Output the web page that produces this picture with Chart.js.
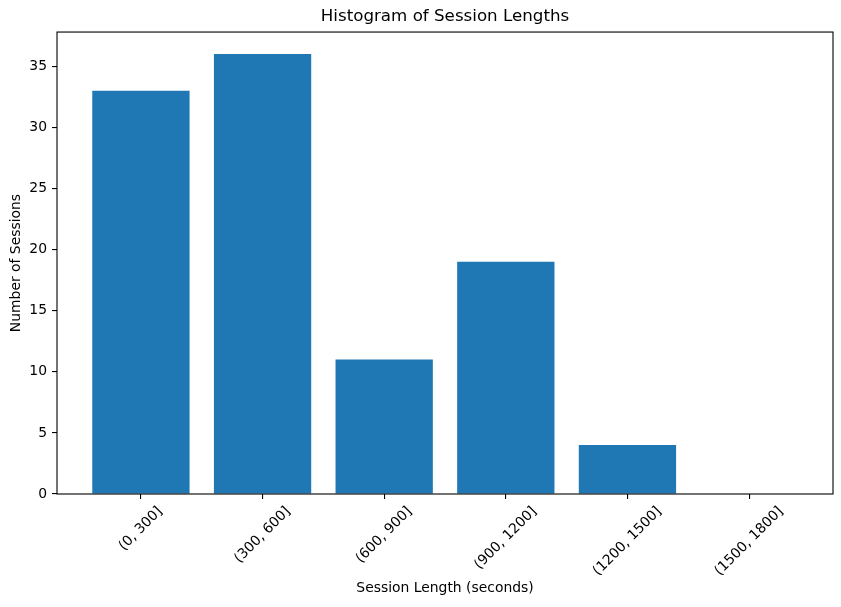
<!DOCTYPE html>
<html>
<head>
<meta charset="utf-8">
<title>Histogram of Session Lengths</title>
<script src="https://cdn.jsdelivr.net/npm/chart.js@4.4.0/dist/chart.umd.min.js"></script>
<style>
    html, body { margin: 0; padding: 0; background: #fff; }
    #wrap { width: 841px; height: 607px; position: relative; }
</style>
</head>
<body>
<div id="wrap"><canvas id="histChart"></canvas></div>
<script>
// ===== DATA =====
var sessionBins = ["(0, 300]", "(300, 600]", "(600, 900]", "(900, 1200]", "(1200, 1500]", "(1500, 1800]"];
var sessionCounts = [33, 36, 11, 19, 4, 0];
var countTicks = [0, 5, 10, 15, 20, 25, 30, 35];

var FONT = "'DejaVu Sans', 'Liberation Sans', sans-serif";
var BAR_COLOR = "#1f77b4";

// ===== PLUGINS =====
// box round the plot area, like matplotlib spines
var frameBox = {
    id: "frameBox",
    afterDatasetsDraw: function(chart) {
        var a = chart.chartArea;
        var ctx = chart.ctx;
        ctx.save();
        ctx.strokeStyle = "#000";
        ctx.lineWidth = 1.1;
        ctx.strokeRect(a.left, a.top, a.right - a.left, a.bottom - a.top);
        ctx.restore();
    }
};

// rotated x labels centred on their ticks (matplotlib rotation=45)
var slantLabels = {
    id: "slantLabels",
    afterDraw: function(chart) {
        var sc = chart.scales.x;
        var ctx = chart.ctx;
        var top = chart.chartArea.bottom + 9.7;
        var h = 16.2;
        ctx.save();
        ctx.font = "13.9px " + FONT;
        ctx.fillStyle = "#000";
        ctx.textAlign = "right";
        ctx.textBaseline = "middle";
        for (var i = 0; i < sessionBins.length; i++) {
            var txt = sessionBins[i];
            var L = ctx.measureText(txt).width;
            var x = sc.getPixelForValue(i);
            ctx.save();
            ctx.translate(x + L / (2 * Math.SQRT2), top + h / (2 * Math.SQRT2));
            ctx.rotate(-Math.PI / 4);
            ctx.fillText(txt, 0, 0);
            ctx.restore();
        }
        ctx.restore();
    }
};

var barData = sessionBins.map(function(b, i) { return { x: i, y: sessionCounts[i] }; });

new Chart(document.getElementById("histChart"), {
    type: "bar",
    data: {
        datasets: [{
            label: "Sessions",
            data: barData,
            backgroundColor: BAR_COLOR,
            borderWidth: 0,
            barPercentage: 0.8,
            categoryPercentage: 1.0
        }]
    },
    options: {
        responsive: true,
        maintainAspectRatio: false,
        animation: false,
        devicePixelRatio: 1,
        layout: { padding: { left: 0, right: 8, top: 0, bottom: 0 } },
        plugins: {
            legend: { display: false },
            tooltip: { enabled: false },
            title: {
                display: true,
                text: "Histogram of Session Lengths",
                color: "#000",
                fullSize: false,
                font: { family: FONT, size: 16.7, weight: "normal" },
                padding: { top: 7, bottom: 5 }
            }
        },
        scales: {
            x: {
                type: "linear",
                min: -0.69,
                max: 5.69,
                offset: false,
                afterBuildTicks: function(axis) {
                    axis.ticks = sessionBins.map(function(b, i) { return { value: i }; });
                },
                afterFit: function(axis) { axis.height = 113; },
                ticks: { display: false },
                grid: { offset: false, drawOnChartArea: false, drawTicks: true, tickLength: 5, color: "#000", lineWidth: 1.1 },
                border: { display: false },
                title: {
                    display: true,
                    text: "Session Length (seconds)",
                    color: "#000",
                    font: { family: FONT, size: 13.9 },
                    padding: { top: 0, bottom: 10 }
                }
            },
            y: {
                type: "linear",
                min: 0,
                max: 37.8,
                afterBuildTicks: function(axis) {
                    axis.ticks = countTicks.map(function(v) { return { value: v }; });
                },
                afterFit: function(axis) { axis.width = 57; },
                ticks: { color: "#000", padding: 5, font: { family: FONT, size: 13.9 } },
                grid: { drawOnChartArea: false, drawTicks: true, tickLength: 5, color: "#000", lineWidth: 1.1 },
                border: { display: false },
                title: {
                    display: true,
                    text: "Number of Sessions",
                    color: "#000",
                    font: { family: FONT, size: 13.9 },
                    padding: { top: 8, bottom: 0 }
                }
            }
        }
    },
    plugins: [frameBox, slantLabels]
});
</script>
</body>
</html>
